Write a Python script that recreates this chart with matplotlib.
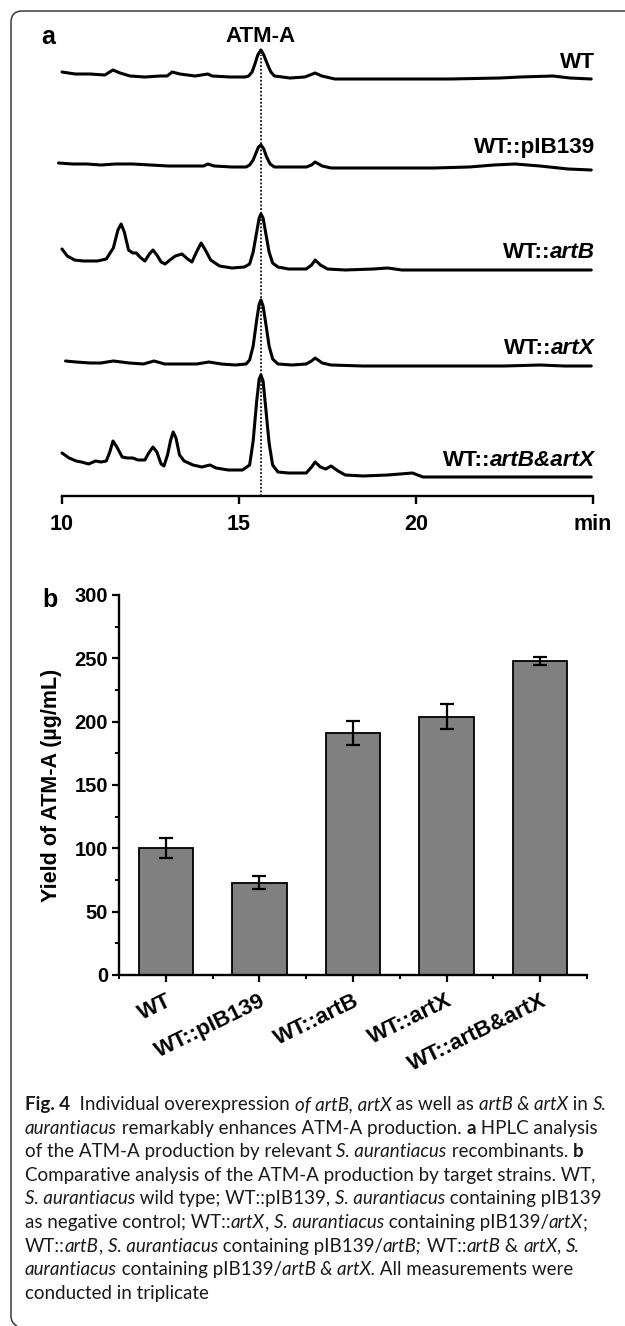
import matplotlib
matplotlib.use('Agg')
import matplotlib.pyplot as plt
from matplotlib.transforms import IdentityTransform
from matplotlib.path import Path
from matplotlib.patches import PathPatch
from matplotlib.ticker import MultipleLocator, FixedLocator

W, H, DPI = 625, 1326, 100

# ---------------- Panel a: HPLC traces ----------------
time_ticks = [10, 15, 20, 25]
time_ticklabels = ['10', '15', '20', 'min']
atm_a_rt = 15.62

trace_labels = [
    [('WT', False)],
    [('WT::pIB139', False)],
    [('WT::', False), ('artB', True)],
    [('WT::', False), ('artX', True)],
    [('WT::', False), ('artB&artX', True)],
]
trace_offsets = [419, 330, 228, 132, 25]
label_levels = [434, 348, 244, 148, 36]

wt_t = [10.0, 10.37, 10.79, 11.21, 11.44, 11.64, 11.92, 12.34, 12.77, 12.97,
        13.11, 13.33, 13.76, 14.12, 14.24, 14.75, 15.17, 15.27, 15.37, 15.45,
        15.53, 15.62, 15.70, 15.80, 15.90, 16.0, 16.44, 16.86, 17.15, 17.34,
        17.71, 18.42, 19.55, 20.96, 22.37, 22.94, 23.87, 24.35, 24.95]
wt_i = [5, 3, 3, 2, 7, 4, 1, 0, 1, 1,
        5, 3, 1, 3, 1, 0, 0, 1, 5, 13,
        22, 27, 22, 13, 5, 1, -1, 0, 4, 1,
        -2, -2, -2, -2, -1, 0, 1, -1, -2]

pib_t = [9.9, 10.3, 10.7, 11.1, 11.5, 12.0, 12.5, 13.0, 13.6, 14.0,
         14.12, 14.3, 14.8, 15.2, 15.3, 15.4, 15.48, 15.55, 15.62, 15.70,
         15.78, 15.88, 16.0, 16.4, 16.9, 17.05, 17.15, 17.35, 17.6, 18.5,
         19.5, 20.5, 21.5, 22.2, 22.8, 23.5, 24.3, 24.95]
pib_i = [3, 2, 2, 1, 2, 2, 1, 0, 0, 0,
         2, 0, -1, -1, 1, 6, 13, 19, 21, 17,
         9, 2, -1, -1, -1, 1, 4, 0, -2, -2,
         -2, -2, -1, 1, 2, 0, -3, -4]

artb_t = [10.0, 10.15, 10.35, 10.6, 11.0, 11.25, 11.45, 11.58, 11.67, 11.76,
          11.88, 12.0, 12.1, 12.2, 12.34, 12.47, 12.57, 12.68, 12.8, 12.91,
          13.05, 13.2, 13.39, 13.55, 13.67, 13.8, 13.93, 14.05, 14.2, 14.45,
          14.8, 15.15, 15.3, 15.4, 15.5, 15.57, 15.62, 15.68, 15.75, 15.85,
          15.95, 16.1, 16.4, 16.9, 17.05, 17.15, 17.3, 17.5, 18.0, 18.8,
          19.2, 19.6, 20.5, 22.0, 24.0, 24.95]
artb_i = [19, 12, 8, 7, 7, 9, 20, 38, 44, 36,
          18, 15, 15, 11, 7, 14, 18, 13, 6, 4,
          8, 12, 14, 9, 6, 16, 25, 18, 8, 2,
          0, 1, 4, 16, 36, 50, 54, 50, 36, 16,
          5, 1, -1, -1, 3, 8, 3, -1, -2, -1,
          0, -2, -2, -2, -2, -2]

artx_t = [10.1, 10.4, 10.8, 11.1, 11.45, 11.9, 12.3, 12.6, 12.9, 13.3,
          13.8, 14.15, 14.5, 14.9, 15.2, 15.3, 15.4, 15.5, 15.57, 15.62,
          15.68, 15.75, 15.85, 15.95, 16.1, 16.5, 16.9, 17.05, 17.15, 17.35,
          17.6, 18.5, 19.5, 20.5, 21.5, 22.5, 23.5, 24.2, 24.95]
artx_i = [3, 2, 1, 1, 3, 1, 0, 3, 0, 0,
          0, 2, 0, -1, 0, 4, 18, 44, 60, 64,
          58, 42, 18, 5, 0, -1, 0, 3, 6, 1,
          -1, -2, -2, -2, -2, -2, -1, -2, -2]

artbx_t = [10.0, 10.2, 10.4, 10.55, 10.75, 10.95, 11.1, 11.25, 11.35, 11.44,
           11.55, 11.7, 11.85, 12.0, 12.15, 12.34, 12.45, 12.57, 12.68, 12.8,
           12.88, 12.98, 13.07, 13.14, 13.22, 13.32, 13.45, 13.7, 13.95, 14.18,
           14.35, 14.7, 15.1, 15.3, 15.4, 15.5, 15.57, 15.62, 15.68, 15.75,
           15.85, 15.95, 16.1, 16.4, 16.9, 17.05, 17.15, 17.3, 17.45, 17.6,
           17.8, 18.0, 18.5, 19.2, 19.9, 20.2, 21.0, 22.0, 23.0, 24.0,
           24.95]
artbx_i = [18, 13, 10, 9, 7, 10, 9, 10, 19, 30,
           24, 14, 13, 13, 11, 11, 18, 24, 19, 7,
           5, 16, 31, 39, 33, 16, 10, 6, 4, 6,
           3, 1, 1, 6, 30, 70, 92, 96, 90, 65,
           28, 6, -1, -2, -2, 4, 9, 4, 2, 5,
           0, -4, -5, -4, -2, -6, -6, -6, -6, -6,
           -6]

traces_t = [wt_t, pib_t, artb_t, artx_t, artbx_t]
traces_i = [wt_i, pib_i, artb_i, artx_i, artbx_i]

# ---------------- Panel b: bar chart ----------------
strains = ['WT', 'WT::pIB139', 'WT::artB', 'WT::artX', 'WT::artB&artX']
yield_mean = [100, 73, 191, 204, 248]
yield_err = [8, 5, 9.5, 10, 3]
yticks_b = [0, 50, 100, 150, 200, 250, 300]

# ---------------- Caption ----------------
caption_lines = [
    [('Fig. 4', 'b'), ('  Individual overexpression ', 'r'), ('of artB, artX', 'i'),
     (' as well as ', 'r'), ('artB & artX', 'i'), (' in ', 'r'), ('S.', 'i')],
    [('aurantiacus', 'i'), (' remarkably enhances ATM-A production. ', 'r'), ('a', 'b'),
     (' HPLC analysis', 'r')],
    [('of the ATM-A production by relevant ', 'r'), ('S. aurantiacus', 'i'),
     (' recombinants. ', 'r'), ('b', 'b')],
    [('Comparative analysis of the ATM-A production by target strains. WT,', 'r')],
    [('S. aurantiacus', 'i'), (' wild type; WT::pIB139, ', 'r'), ('S. aurantiacus', 'i'),
     (' containing pIB139', 'r')],
    [('as negative control; WT::', 'r'), ('artX', 'i'), (', ', 'r'), ('S. aurantiacus', 'i'),
     (' containing pIB139/', 'r'), ('artX', 'i'), (';', 'r')],
    [('WT::', 'r'), ('artB', 'i'), (', ', 'r'), ('S. aurantiacus', 'i'),
     (' containing pIB139/', 'r'), ('artB;', 'i'), (' WT::', 'r'), ('artB', 'i'),
     (' & ', 'r'), ('artX', 'i'), (', ', 'r'), ('S.', 'i')],
    [('aurantiacus', 'i'), (' containing pIB139/', 'r'), ('artB & artX.', 'i'),
     (' All measurements were', 'r')],
    [('conducted in triplicate', 'r')],
]

CHART_FONT = 'Liberation Sans'
CAP_FONT = 'Lato'

fig = plt.figure(figsize=(W / DPI, H / DPI), dpi=DPI)
fig.patch.set_facecolor('white')
renderer = fig.canvas.get_renderer()


def fpos(x, y):
    return x / W, 1 - y / H


def ax_rect(l, t, r, b):
    return [l / W, 1 - b / H, (r - l) / W, (b - t) / H]


def text_width(s, **kw):
    t1 = fig.text(0, 0, '|' + s + '|', transform=IdentityTransform(), **kw)
    t2 = fig.text(0, 0, '||', transform=IdentityTransform(), **kw)
    w = t1.get_window_extent(renderer).width - t2.get_window_extent(renderer).width
    t1.remove(); t2.remove()
    return w


# ---------- Panel a ----------
axa = fig.add_axes(ax_rect(62, 20, 593, 496))
for tt, ii, off in zip(traces_t, traces_i, trace_offsets):
    axa.plot(tt, [v + off for v in ii], color='black', lw=2.2,
             solid_joinstyle='round', solid_capstyle='round', clip_on=False)
axa.plot([atm_a_rt, atm_a_rt], [0, 441], color='black', lw=1.2,
         linestyle=(0, (1.1, 1.1)), clip_on=False)
axa.set_xlim(10, 25)
axa.set_ylim(0, 476)
for s in ['left', 'top', 'right']:
    axa.spines[s].set_visible(False)
axa.spines['bottom'].set_linewidth(1.7)
axa.set_yticks([])
axa.set_xticks(time_ticks)
axa.set_xticklabels(time_ticklabels, fontfamily=CHART_FONT, fontweight='bold', fontsize=15.5)
axa.tick_params(axis='x', direction='out', length=6, width=1.7, pad=7)
axa.patch.set_visible(False)

axa.text(atm_a_rt, 459, 'ATM-A', ha='center', va='center', fontfamily=CHART_FONT,
         fontweight='bold', fontsize=16)

for segs, lev in zip(trace_labels, label_levels):
    xd, yd = axa.transData.transform((25, lev))
    x = xd + 2
    for s, it in reversed(segs):
        kw = dict(fontfamily=CHART_FONT, fontweight='bold', fontsize=16.2,
                  fontstyle='italic' if it else 'normal')
        fig.text(x, yd, s, transform=IdentityTransform(), ha='right', va='center', **kw)
        x -= text_width(s, **kw)

fig.text(*fpos(48, 37), 'a', ha='center', va='center', fontfamily=CHART_FONT,
         fontweight='bold', fontsize=18)

# ---------- Panel b ----------
axb = fig.add_axes(ax_rect(119, 595, 587, 975))
xpos = list(range(len(strains)))
axb.bar(xpos, yield_mean, width=0.58, color='#808080', edgecolor='black', linewidth=1.3,
        zorder=2)
axb.errorbar(xpos, yield_mean, yerr=yield_err, fmt='none', ecolor='black', elinewidth=1.6,
             capsize=4.8, capthick=1.6, zorder=3)
axb.set_xlim(-0.5, 4.5)
axb.set_ylim(0, 300)
for s in ['top', 'right']:
    axb.spines[s].set_visible(False)
for s in ['left', 'bottom']:
    axb.spines[s].set_linewidth(1.7)
axb.set_yticks(yticks_b)
axb.yaxis.set_minor_locator(MultipleLocator(25))
axb.set_yticklabels([str(v) for v in yticks_b], fontfamily=CHART_FONT, fontweight='bold',
                    fontsize=14.5)
axb.set_xticks(xpos)
axb.xaxis.set_minor_locator(FixedLocator([-0.5, 0.5, 1.5, 2.5, 3.5, 4.5]))
axb.set_xticklabels(strains, fontfamily=CHART_FONT, fontweight='bold', fontsize=16,
                    rotation=26, ha='right', va='top', rotation_mode='anchor')
axb.tick_params(axis='both', which='major', direction='out', length=5, width=1.6)
axb.tick_params(axis='both', which='minor', direction='out', length=3, width=1.4)
axb.tick_params(axis='y', which='major', pad=3)
axb.tick_params(axis='x', which='major', pad=6)
axb.set_ylabel('Yield of ATM-A (\u00b5g/mL)', fontfamily=CHART_FONT, fontweight='bold',
               fontsize=15.5)
axb.yaxis.set_label_coords(-0.122, 0.5)

fig.text(*fpos(50, 600), 'b', ha='center', va='center', fontfamily=CHART_FONT,
         fontweight='bold', fontsize=18)

# ---------- Caption ----------
style_kw = {
    'r': dict(fontweight='normal', fontstyle='normal'),
    'i': dict(fontweight='normal', fontstyle='italic'),
    'b': dict(fontweight='bold', fontstyle='normal'),
}


def line_width(segs, size):
    return sum(text_width(s, fontfamily=CAP_FONT, fontsize=size, **style_kw[st])
               for s, st in segs)


ref_size = 10.0
widest = max(line_width(segs, ref_size) for segs in caption_lines[:6])
cap_size = ref_size * 580.0 / widest
x0 = 25
base0 = 1110
line_gap = 23.6
for k, segs in enumerate(caption_lines):
    x = x0
    yb = H - (base0 + k * line_gap)
    for s, st in segs:
        kw = dict(fontfamily=CAP_FONT, fontsize=cap_size, color='#1a1a1a', **style_kw[st])
        fig.text(x, yb, s, transform=IdentityTransform(), ha='left', va='baseline', **kw)
        x += text_width(s, **kw)

# ---------- Frame ----------
verts = [(W + 2, 11), (22, 11), (11, 11), (11, 22), (11, 1316), (11, 1323), (17, 1326)]
codes = [Path.MOVETO, Path.LINETO, Path.CURVE3, Path.CURVE3, Path.LINETO, Path.CURVE3, Path.CURVE3]
verts_disp = [(x, H - y) for x, y in verts]
frame = PathPatch(Path(verts_disp, codes), transform=IdentityTransform(), fill=False,
                  edgecolor='#3a3a3a', lw=1.1)
fig.add_artist(frame)

fig.savefig('out.png', dpi=DPI)
